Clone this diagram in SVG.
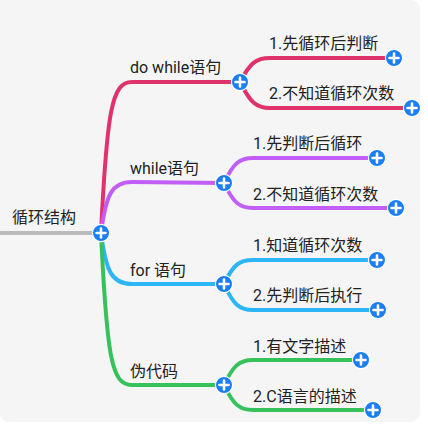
<svg xmlns="http://www.w3.org/2000/svg" width="428" height="426" viewBox="0 0 428 426">
<defs>
<style>
.t{font-family:Roboto,"Noto Sans CJK SC","Noto Sans",sans-serif;font-size:16px;fill:#222}
.ln{fill:none;stroke-width:4;stroke-linecap:round}
.red{stroke:#e0336c}.pur{stroke:#c25ef5}.blu{stroke:#2cb5f7}.grn{stroke:#36c25b}
</style>
<g id="plus"><circle r="8.6" fill="#1b7ef2" stroke="#ffffff" stroke-width="1.2"/><path d="M-4.5,0H4.5M0,-4.5V4.5" stroke="#ffffff" stroke-width="2.6" stroke-linecap="round"/></g>
</defs>
<rect width="428" height="426" fill="#ffffff"/>
<path d="M0,0H411a9,9 0 0 1 9,9V413a9,9 0 0 1 -9,9H9a9,9 0 0 1 -9,-9Z" fill="#f4f5f4"/>
<g id="connectors">
<line class="ln" x1="0" y1="233" x2="101" y2="233" stroke="#bbbbbb" stroke-linecap="butt"/>
<path class="ln red" d="M101,233 C107,110 112,82 132,82 L240,82"/>
<path class="ln pur" d="M101,233 C106,194 112,182 132,182 L224,183"/>
<path class="ln blu" d="M101,233 C106,272 112,284 132,284 L224,284"/>
<path class="ln grn" d="M101,233 C107,360 112,385 132,385 L224,385"/>
<path class="ln red" d="M240,82 C250,63 256,58 270,58 L394,58"/>
<path class="ln red" d="M240,82 C250,102 256,108 270,108 L412,108"/>
<path class="ln pur" d="M224,183 C233,164 239,158 253,158 L377,158"/>
<path class="ln pur" d="M224,183 C233,202 239,208 253,208 L396,208"/>
<path class="ln blu" d="M224,284 C233,265 239,260 253,260 L377,260"/>
<path class="ln blu" d="M224,284 C233,304 239,310 253,310 L378,310"/>
<path class="ln grn" d="M224,385 C233,366 239,360 253,360 L361,360"/>
<path class="ln grn" d="M224,385 C233,404 239,410 253,410 L373,410"/>
</g>
<g id="root"><text class="t" x="12" y="223">循环结构</text><use href="#plus" x="101" y="233"/></g>
<g id="n-dowhile"><text class="t" x="130" y="73">do while语句</text><use href="#plus" x="240" y="82"/></g>
<g id="n-while"><text class="t" x="130" y="174">while语句</text><use href="#plus" x="224" y="183"/></g>
<g id="n-for"><text class="t" x="130" y="276">for 语句</text><use href="#plus" x="224" y="284"/></g>
<g id="n-pseudo"><text class="t" x="130" y="377">伪代码</text><use href="#plus" x="224" y="385"/></g>
<g id="n-dw1"><text class="t" x="269" y="49">1.先循环后判断</text><use href="#plus" x="394" y="58"/></g>
<g id="n-dw2"><text class="t" x="269" y="99">2.不知道循环次数</text><use href="#plus" x="412" y="108"/></g>
<g id="n-w1"><text class="t" x="253" y="149">1.先判断后循环</text><use href="#plus" x="377" y="158"/></g>
<g id="n-w2"><text class="t" x="253" y="200">2.不知道循环次数</text><use href="#plus" x="396" y="208"/></g>
<g id="n-f1"><text class="t" x="253" y="251">1.知道循环次数</text><use href="#plus" x="377" y="260"/></g>
<g id="n-f2"><text class="t" x="253" y="301">2.先判断后执行</text><use href="#plus" x="378" y="310"/></g>
<g id="n-p1"><text class="t" x="253" y="352">1.有文字描述</text><use href="#plus" x="361" y="360"/></g>
<g id="n-p2"><text class="t" x="253" y="402">2.C语言的描述</text><use href="#plus" x="373" y="410"/></g>
</svg>
